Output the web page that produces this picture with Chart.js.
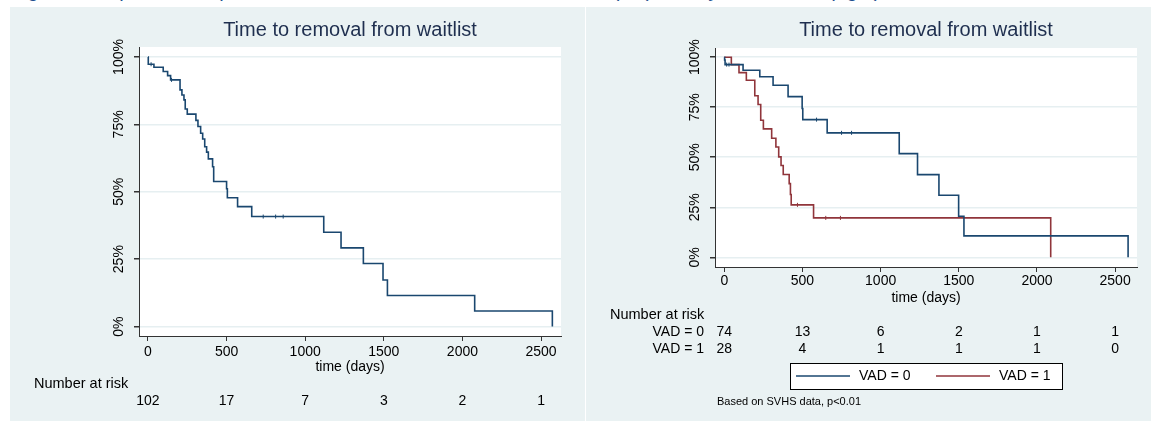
<!DOCTYPE html>
<html>
<head>
<meta charset="utf-8">
<script src="https://cdn.jsdelivr.net/npm/chart.js@4.4.1/dist/chart.umd.min.js"></script>
<style>
body { margin: 0; background: #fff; width: 1151px; height: 421px; overflow: hidden; position: relative; font-family: "Liberation Sans", Arial, sans-serif; }
#fig { position: absolute; left: 12px; top: -20px; font-size: 20px; line-height: 20px; font-style: italic; color: #1f4f8f; white-space: nowrap; }
#p1 { position: absolute; left: 10px; top: 7px; width: 575px; height: 414px; background: #eaf2f3; }
#p2 { position: absolute; left: 586px; top: 7px; width: 565px; height: 414px; background: #eaf2f3; }
canvas { display: block; }
</style>
</head>
<body>
<div id="fig">Figure 2: Kaplan-Meier plots of time to removal from waitlist, overall (left) and by VAD status (right)</div>
<div id="p1"><canvas id="allChart" width="575" height="414"></canvas></div>
<div id="p2"><canvas id="vadChart" width="565" height="414"></canvas></div>
<script>
const xTicks = [0, 500, 1000, 1500, 2000, 2500];
const yTicks = [0, 25, 50, 75, 100];

// all patients
const allDays = [0, 2, 38, 97, 125, 144, 204, 216, 229, 237, 250, 305, 318, 335, 348, 361, 373, 384, 411, 418, 500, 505, 570, 660, 1118, 1228, 1370, 1495, 1523, 2078, 2572];
const allSurv = [100, 97.3, 96.2, 94.6, 93.1, 91.5, 87.8, 85.9, 84.1, 80.7, 78.8, 76.5, 74.2, 71.7, 69.6, 66.7, 64.7, 62.2, 59.3, 53.8, 51.1, 47.8, 44.5, 40.8, 35.0, 29.2, 23.4, 17.3, 11.5, 5.8, 0];
const allCensDays = [20, 150, 733, 812, 860];
const allCensSurv = [97.3, 91.5, 40.8, 40.8, 40.8];
const allRisk = [102, 17, 7, 3, 2, 1];

// VAD = 0
const vad0Days = [0, 2, 5, 120, 227, 312, 408, 498, 502, 658, 1119, 1236, 1373, 1499, 1533, 2583];
const vad0Surv = [100, 98.6, 96.3, 93.5, 90.2, 86.0, 80.3, 74.4, 68.8, 62.2, 51.8, 41.3, 31.0, 20.5, 10.7, 0];
const vad0CensDays = [15, 30, 590, 750, 814];
const vad0CensSurv = [96.3, 96.3, 68.8, 62.2, 62.2];
const vad0Risk = [74, 13, 6, 2, 1, 1];

// VAD = 1
const vad1Days = [0, 45, 94, 141, 195, 216, 233, 250, 303, 330, 348, 363, 377, 415, 423, 428, 571, 2088];
const vad1Surv = [100, 96.3, 92.3, 88.5, 80.7, 76.4, 68.5, 64.2, 59.5, 55.1, 50.2, 45.9, 41.4, 36.8, 31.4, 26.2, 19.7, 0];
const vad1CensDays = [468, 649, 743];
const vad1CensSurv = [26.2, 19.7, 19.7];
const vad1Risk = [28, 4, 1, 1, 1, 0];

const navy = '#1a476f';
const maroon = '#90353b';
const font = '"Liberation Sans", Arial, sans-serif';

function pts(xs, ys) {
    return xs.map((x, i) => ({ x: x, y: ys[i] }));
}

function curve(xs, ys, color) {
    return { data: pts(xs, ys), borderColor: color, borderWidth: 1.6, stepped: true, pointRadius: 0, fill: false };
}

function marks(xs, ys, color) {
    return { data: pts(xs, ys), showLine: false, pointStyle: 'line', rotation: 90, pointRadius: 2, borderColor: color, borderWidth: 1 };
}

const stataLook = {
    id: 'stataLook',
    beforeDraw(chart) {
        const a = chart.chartArea, c = chart.ctx;
        c.save();
        c.fillStyle = '#fff';
        c.fillRect(a.left, a.top, a.right - a.left, a.bottom - a.top);
        c.restore();
    },
    afterDraw(chart, args, o) {
        const c = chart.ctx, a = chart.chartArea, xs = chart.scales.x, ys = chart.scales.y;
        const mid = (a.left + a.right) / 2;
        c.save();
        c.fillStyle = '#000';
        c.textAlign = 'center';
        c.textBaseline = 'middle';
        c.font = '14px ' + font;
        yTicks.forEach(v => {
            c.save();
            c.translate(a.left - 20, ys.getPixelForValue(v));
            c.rotate(-Math.PI / 2);
            c.fillText(v + '%', 0, 0);
            c.restore();
        });
        xTicks.forEach(v => c.fillText(String(v), xs.getPixelForValue(v), a.bottom + o.tickGap));
        c.fillText('time (days)', mid, a.bottom + 31);

        c.textAlign = 'left';
        c.font = '14.5px ' + font;
        c.fillText('Number at risk', 24, a.bottom + 48);
        c.font = '14px ' + font;
        o.risk.forEach((row, r) => {
            const y = a.bottom + 65 + r * 17;
            if (o.rowLabels) {
                c.textAlign = 'right';
                c.fillText(o.rowLabels[r], 118, y);
            }
            c.textAlign = 'center';
            row.forEach((n, i) => c.fillText(String(n), xs.getPixelForValue(xTicks[i]), y));
        });

        if (o.legend) {
            const L = o.legend;
            c.fillStyle = '#fff';
            c.fillRect(L.x, L.y, L.w, L.h);
            c.strokeStyle = '#000';
            c.lineWidth = 1;
            c.strokeRect(L.x + 0.5, L.y + 0.5, L.w, L.h);
            const cy = L.y + L.h / 2;
            L.items.forEach(it => {
                c.strokeStyle = it.color;
                c.lineWidth = 1.4;
                c.beginPath();
                c.moveTo(it.x0, cy);
                c.lineTo(it.x0 + 54, cy);
                c.stroke();
                c.fillStyle = '#000';
                c.textAlign = 'left';
                c.fillText(it.label, it.x0 + 63, cy);
            });
        }
        if (o.note) {
            c.fillStyle = '#000';
            c.textAlign = 'left';
            c.font = '11px ' + font;
            c.fillText(o.note, 131, a.bottom + 135);
        }

        c.fillStyle = '#1f2f4f';
        c.textAlign = 'center';
        c.font = '20px ' + font;
        c.fillText(o.title, mid, 23);
        c.restore();
    }
};

function kmChart(id, datasets, pad, xMin, xMax, yMin, yMax, extra) {
    return new Chart(document.getElementById(id), {
        type: 'line',
        data: { datasets: datasets },
        options: {
            responsive: false,
            animation: false,
            layout: { padding: pad },
            plugins: { legend: { display: false }, tooltip: { enabled: false }, stataLook: extra },
            scales: {
                x: {
                    type: 'linear', min: xMin, max: xMax,
                    afterBuildTicks: s => { s.ticks = xTicks.map(v => ({ value: v })); },
                    afterFit: s => { s.height = 20; },
                    grid: { drawOnChartArea: false, tickLength: 5, tickColor: '#333' },
                    border: { color: '#333', width: 1 },
                    ticks: { display: false }
                },
                y: {
                    type: 'linear', min: yMin, max: yMax,
                    afterBuildTicks: s => { s.ticks = yTicks.map(v => ({ value: v })); },
                    afterFit: s => { s.width = 10; },
                    grid: { color: '#e6eff1', lineWidth: 1.5, tickLength: 5, tickColor: '#333' },
                    border: { color: '#333', width: 1 },
                    ticks: { display: false }
                }
            }
        },
        plugins: [stataLook]
    });
}

kmChart('allChart',
    [curve(allDays, allSurv, navy), marks(allCensDays, allCensSurv, navy)],
    { left: 119, top: 40, right: 24, bottom: 65 },
    -57, 2627, -3.5, 103.7,
    { title: 'Time to removal from waitlist', risk: [allRisk], tickGap: 16 });

kmChart('vadChart',
    [curve(vad0Days, vad0Surv, navy), curve(vad1Days, vad1Surv, maroon),
     marks(vad0CensDays, vad0CensSurv, navy), marks(vad1CensDays, vad1CensSurv, maroon)],
    { left: 119, top: 41, right: 14, bottom: 134 },
    -59.5, 2640, -4.85, 104.6,
    {
        title: 'Time to removal from waitlist',
        risk: [vad0Risk, vad1Risk],
        rowLabels: ['VAD = 0', 'VAD = 1'],
        tickGap: 14,
        legend: { x: 204, y: 356, w: 272, h: 26, items: [
            { label: 'VAD = 0', color: navy, x0: 210 },
            { label: 'VAD = 1', color: maroon, x0: 350 }
        ] },
        note: 'Based on SVHS data, p<0.01'
    });
</script>
</body>
</html>
